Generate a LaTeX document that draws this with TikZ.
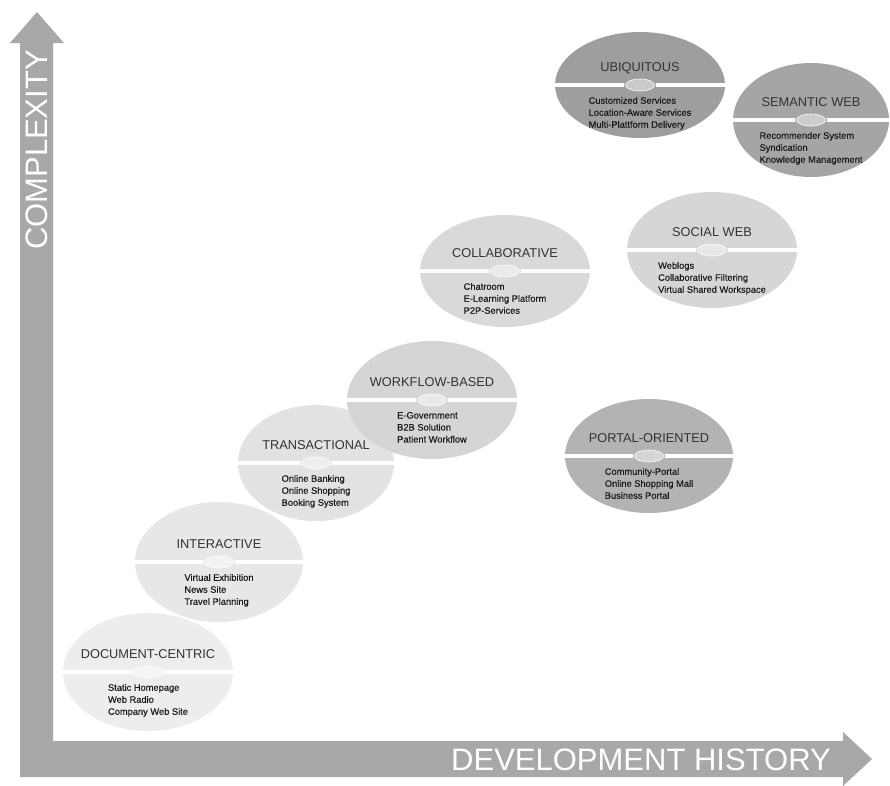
\documentclass[tikz,border=0pt]{standalone}
\usepackage{fontspec}
\setmainfont{Liberation Sans}
\newfontfamily\itemfont[FakeBold=0.3]{Liberation Sans}
\usepackage{tikz}
\usetikzlibrary{positioning, shapes.geometric}
\definecolor{axisc}{HTML}{A8A8A8}
\definecolor{docc}{HTML}{EDEDED}
\definecolor{interc}{HTML}{E7E7E7}
\definecolor{transc}{HTML}{E2E2E2}
\definecolor{flowc}{HTML}{D5D5D5}
\definecolor{collc}{HTML}{D9D9D9}
\definecolor{socc}{HTML}{D6D6D6}
\definecolor{portc}{HTML}{B3B3B3}
\definecolor{ubiqc}{HTML}{9E9E9E}
\definecolor{semc}{HTML}{A5A5A5}

\begin{document}
\begin{tikzpicture}[x=1pt, y=-1pt,
      era/.style={ellipse, minimum width=170pt, minimum height=116pt, inner sep=0pt},
      divider/.style={draw=white, line width=4pt},
      knob/.style={ellipse, minimum width=29pt, minimum height=12pt, inner sep=0pt,
                   preaction={draw=#1, line width=3pt},
                   fill=#1!55!white, draw=white, line width=0.6pt},
      title/.style={font=\fontsize{12.8}{14}\selectfont, text=black!80,
                    inner sep=0pt, text height=9.2pt, text depth=0pt},
      items/.style={font=\itemfont\fontsize{9.3}{12}\selectfont, text=black!90,
                    align=left, inner sep=0pt},
      axislbl/.style={font=\fontsize{31}{31}\selectfont, text=white, inner sep=0pt}]
    \useasboundingbox (0,0) rectangle (890,785);
    \fill[white] (0,0) rectangle (890,785);

    % the two axes as one L-shaped arrow
    \fill[axisc] (20,777) -- (20,43) -- (10,43) -- (37,12) -- (64,43) -- (53,43)
      -- (53,741) -- (843,741) -- (843,732) -- (872,759) -- (843,786)
      -- (843,777) -- cycle;
    \node[axislbl, rotate=90] (ylbl) at (36.5,150) {COMPLEXITY};
    \node[axislbl] (xlbl) at (641,759.5) {DEVELOPMENT HISTORY};

    % document-centric
    \node[era, fill=docc, minimum height=118pt] (doc) at (148,672) {};
    \draw[divider] (doc.west) -- (doc.east);
    \node[knob=docc] (docknob) at (doc.center) {};
    \node[title, above=7.4pt of docknob] (doct) {DOCUMENT-CENTRIC};
    \node[items, below=5.5pt of docknob] (doci)
      {Static Homepage\\ Web Radio\\ Company Web Site};

    % interactive
    \node[era, fill=interc, minimum width=168pt, minimum height=120pt] (inter) at (219,562) {};
    \draw[divider] (inter.west) -- (inter.east);
    \node[knob=interc] (interknob) at (inter.center) {};
    \node[title, above=7.4pt of interknob] (intert) {INTERACTIVE};
    \node[items, below=5.5pt of interknob] (interi)
      {Virtual Exhibition\\ News Site\\ Travel Planning};

    % transactional
    \node[era, fill=transc, minimum width=156pt] (trans) at (316,463) {};
    \draw[divider] (trans.west) -- (trans.east);
    \node[knob=transc] (transknob) at (trans.center) {};
    \node[title, above=7.4pt of transknob] (transt) {TRANSACTIONAL};
    \node[items, below=5.5pt of transknob] (transi)
      {Online Banking\\ Online Shopping\\ Booking System};

    % workflow-based
    \node[era, fill=flowc, minimum height=118pt] (flow) at (432,400) {};
    \draw[divider] (flow.west) -- (flow.east);
    \node[knob=flowc] (flowknob) at (flow.center) {};
    \node[title, above=7.4pt of flowknob] (flowt) {WORKFLOW-BASED};
    \node[items, below=5.5pt of flowknob] (flowi)
      {E-Government\\ B2B Solution\\ Patient Workflow};

    % collaborative
    \node[era, fill=collc, minimum height=112pt] (coll) at (505,271) {};
    \draw[divider] (coll.west) -- (coll.east);
    \node[knob=collc] (collknob) at (coll.center) {};
    \node[title, above=7.4pt of collknob] (collt) {COLLABORATIVE};
    \node[items, below=5.5pt of collknob] (colli)
      {Chatroom\\ E-Learning Platform\\ P2P-Services};

    % social web
    \node[era, fill=socc] (soc) at (712,250) {};
    \draw[divider] (soc.west) -- (soc.east);
    \node[knob=socc] (socknob) at (soc.center) {};
    \node[title, above=7.4pt of socknob] (soct) {SOCIAL WEB};
    \node[items, below=5.5pt of socknob] (soci)
      {Weblogs\\ Collaborative Filtering\\ Virtual Shared Workspace};

    % portal-oriented
    \node[era, fill=portc, minimum width=168pt, minimum height=114pt] (port) at (649,456) {};
    \draw[divider] (port.west) -- (port.east);
    \node[knob=portc] (portknob) at (port.center) {};
    \node[title, above=7.4pt of portknob] (portt) {PORTAL-ORIENTED};
    \node[items, below=5.5pt of portknob] (porti)
      {Community-Portal\\ Online Shopping Mall\\ Business Portal};

    % ubiquitous
    \node[era, fill=ubiqc, minimum height=106pt] (ubiq) at (640,85) {};
    \draw[divider] (ubiq.west) -- (ubiq.east);
    \node[knob=ubiqc] (ubiqknob) at (ubiq.center) {};
    \node[title, above=7.4pt of ubiqknob] (ubiqt) {UBIQUITOUS};
    \node[items, below=5.5pt of ubiqknob] (ubiqi)
      {Customized Services\\ Location-Aware Services\\ Multi-Plattform Delivery};

    % semantic web
    \node[era, fill=semc, minimum width=156pt, minimum height=114pt] (sem) at (811,120) {};
    \draw[divider] (sem.west) -- (sem.east);
    \node[knob=semc] (semknob) at (sem.center) {};
    \node[title, above=7.4pt of semknob] (semt) {SEMANTIC WEB};
    \node[items, below=5.5pt of semknob] (semi)
      {Recommender System\\ Syndication\\ Knowledge Management};
  \end{tikzpicture}
\end{document}
